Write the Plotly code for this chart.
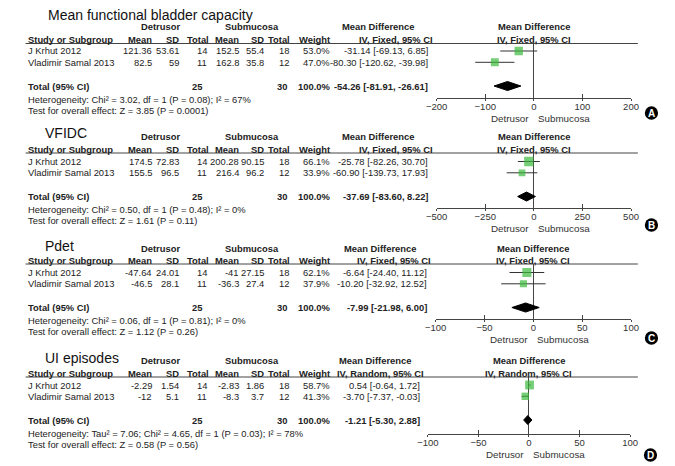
import plotly.graph_objects as go

W, H = 675, 466

# ---------------- data ----------------
studies = ["J Krhut 2012", "Vladimir Samal 2013"]
titles = ["Mean functional bladder capacity", "VFIDC", "Pdet", "UI episodes"]
methods = ["IV, Fixed, 95% CI", "IV, Fixed, 95% CI", "IV, Fixed, 95% CI", "IV, Random, 95% CI"]
letters = ["A", "B", "C", "D"]

a_det_mean = [121.36, 82.5]
a_det_sd = [53.61, 59]
a_det_n = [14, 11]
a_sub_mean = [152.5, 162.8]
a_sub_sd = [55.4, 35.8]
a_sub_n = [18, 12]
a_weight = [53.0, 47.0]
a_md = [-31.14, -80.30]
a_lo = [-69.13, -120.62]
a_hi = [6.85, -39.98]
a_total = [-54.26, -81.91, -26.61]
a_het = "Heterogeneity: Chi\u00b2 = 3.02, df = 1 (P = 0.08); I\u00b2 = 67%"
a_test = "Test for overall effect: Z = 3.85 (P = 0.0001)"
a_ticks = [-200, -100, 0, 100, 200]

b_det_mean = [174.5, 155.5]
b_det_sd = [72.83, 96.5]
b_det_n = [14, 11]
b_sub_mean = [200.28, 216.4]
b_sub_sd = [90.15, 96.2]
b_sub_n = [18, 12]
b_weight = [66.1, 33.9]
b_md = [-25.78, -60.90]
b_lo = [-82.26, -139.73]
b_hi = [30.70, 17.93]
b_total = [-37.69, -83.60, 8.22]
b_het = "Heterogeneity: Chi\u00b2 = 0.50, df = 1 (P = 0.48); I\u00b2 = 0%"
b_test = "Test for overall effect: Z = 1.61 (P = 0.11)"
b_ticks = [-500, -250, 0, 250, 500]

c_det_mean = [-47.64, -46.5]
c_det_sd = [24.01, 28.1]
c_det_n = [14, 11]
c_sub_mean = [-41, -36.3]
c_sub_sd = [27.15, 27.4]
c_sub_n = [18, 12]
c_weight = [62.1, 37.9]
c_md = [-6.64, -10.20]
c_lo = [-24.40, -32.92]
c_hi = [11.12, 12.52]
c_total = [-7.99, -21.98, 6.00]
c_het = "Heterogeneity: Chi\u00b2 = 0.06, df = 1 (P = 0.81); I\u00b2 = 0%"
c_test = "Test for overall effect: Z = 1.12 (P = 0.26)"
c_ticks = [-100, -50, 0, 50, 100]

d_det_mean = [-2.29, -12]
d_det_sd = [1.54, 5.1]
d_det_n = [14, 11]
d_sub_mean = [-2.83, -8.3]
d_sub_sd = [1.86, 3.7]
d_sub_n = [18, 12]
d_weight = [58.7, 41.3]
d_md = [0.54, -3.70]
d_lo = [-0.64, -7.37]
d_hi = [1.72, -0.03]
d_total = [-1.21, -5.30, 2.88]
d_het = "Heterogeneity: Tau\u00b2 = 7.06; Chi\u00b2 = 4.65, df = 1 (P = 0.03); I\u00b2 = 78%"
d_test = "Test for overall effect: Z = 0.58 (P = 0.56)"
d_ticks = [-100, -50, 0, 50, 100]

panels = [
    dict(det_mean=a_det_mean, det_sd=a_det_sd, det_n=a_det_n, sub_mean=a_sub_mean, sub_sd=a_sub_sd,
         sub_n=a_sub_n, weight=a_weight, md=a_md, lo=a_lo, hi=a_hi, total=a_total, het=a_het,
         test=a_test, ticks=a_ticks),
    dict(det_mean=b_det_mean, det_sd=b_det_sd, det_n=b_det_n, sub_mean=b_sub_mean, sub_sd=b_sub_sd,
         sub_n=b_sub_n, weight=b_weight, md=b_md, lo=b_lo, hi=b_hi, total=b_total, het=b_het,
         test=b_test, ticks=b_ticks),
    dict(det_mean=c_det_mean, det_sd=c_det_sd, det_n=c_det_n, sub_mean=c_sub_mean, sub_sd=c_sub_sd,
         sub_n=c_sub_n, weight=c_weight, md=c_md, lo=c_lo, hi=c_hi, total=c_total, het=c_het,
         test=c_test, ticks=c_ticks),
    dict(det_mean=d_det_mean, det_sd=d_det_sd, det_n=d_det_n, sub_mean=d_sub_mean, sub_sd=d_sub_sd,
         sub_n=d_sub_n, weight=d_weight, md=d_md, lo=d_lo, hi=d_hi, total=d_total, het=d_het,
         test=d_test, ticks=d_ticks),
]

# ---------------- layout geometry (pixels) ----------------
geom = [
    dict(title_y=15, grp_y=26, hdr_y=39, line_y=43.5, r1=51, axis_y=98, x0=438, x1=638,
         mdcol=430, mdh1=378, mdh2=396, let_y=113, let_x=659),
    dict(title_y=133, grp_y=136, hdr_y=149, line_y=153, r1=161.5, axis_y=208, x0=438, x1=638,
         mdcol=430, mdh1=378, mdh2=396, let_y=225, let_x=659),
    dict(title_y=246, grp_y=248, hdr_y=260, line_y=264, r1=272.5, axis_y=319, x0=437, x1=638,
         mdcol=429, mdh1=380, mdh2=394, let_y=338, let_x=659),
    dict(title_y=358, grp_y=360, hdr_y=373, line_y=377, r1=385, axis_y=434, x0=429, x1=637,
         mdcol=422, mdh1=375, mdh2=380, let_y=455, let_x=658),
]
U = 11.3            # px per row
ROWS = [0, 1]
TOT = 3.1
cols = dict(mean1=146, sd1=174, n1=205, mean2=236, sd2=261, n2=288, w=329, n1t=198, n2t=285)

FONT = "Liberation Sans, Arial, sans-serif"
TXT = "#222222"
FS = 9.4
GREEN = "#3cb93c"

fig = go.Figure()
ann = []
shapes = []


def px(x):
    return x / W


def py(y):
    return 1 - y / H


def txt(x, y, s, anchor="right", bold=False, size=FS, color=TXT, xref="paper", xshift=0):
    ann.append(dict(x=x if xref != "paper" else px(x), y=py(y), xref=xref, yref="paper",
                    text=f"<b>{s}</b>" if bold else s, showarrow=False, xanchor=anchor,
                    yanchor="middle", xshift=xshift, borderpad=0,
                    font=dict(family=FONT, size=size, color=color)))


def fmt(v):
    return f"{v:g}"


def ci(m, l, h):
    return f"{m:.2f} [{l:.2f}, {h:.2f}]"


for i, (p, g) in enumerate(zip(panels, geom)):
    k = "" if i == 0 else str(i + 1)
    xa, ya = "x" + k, "y" + k
    rng = [p["ticks"][0], p["ticks"][-1]]
    ytop = (g["line_y"] - g["r1"]) / U
    ybot = (g["axis_y"] - g["r1"]) / U

    fig.update_layout({
        "xaxis" + k: dict(domain=[px(g["x0"]), px(g["x1"])], range=rng, anchor=ya,
                          tickvals=p["ticks"], ticks="inside", ticklen=4, tickcolor="#444",
                          showline=True, linecolor="#444", linewidth=1, showgrid=False,
                          zeroline=True, zerolinecolor="#444", zerolinewidth=1,
                          tickfont=dict(family=FONT, size=9.5, color="#333"), fixedrange=True),
        "yaxis" + k: dict(domain=[py(g["axis_y"]), py(g["line_y"])], range=[ybot, ytop],
                          anchor=xa, visible=False, fixedrange=True),
        "xaxis" + str(i + 5): dict(overlaying=xa, anchor=ya, range=rng, tickvals=p["ticks"],
                                   ticks="outside", ticklen=2, tickcolor="#444",
                                   showticklabels=False, showline=False, showgrid=False,
                                   zeroline=False, side="bottom"),
    })

    # study squares with CIs
    fig.add_trace(go.Scatter(
        x=p["md"], y=ROWS, xaxis=xa, yaxis=ya, mode="markers",
        marker=dict(symbol="square", color=GREEN, size=[1.15 * w ** 0.5 for w in p["weight"]],
                    line=dict(width=0)),
        error_x=dict(type="data", symmetric=False,
                     array=[h - m for h, m in zip(p["hi"], p["md"])],
                     arrayminus=[m - l for m, l in zip(p["md"], p["lo"])],
                     color="#333", thickness=1, width=0),
        hoverinfo="skip", showlegend=False))
    # pooled diamond
    m, l, h = p["total"]
    dh = 0.4
    fig.add_trace(go.Scatter(
        x=[l, m, h, m, l], y=[TOT, TOT - dh, TOT, TOT + dh, TOT], xaxis=xa, yaxis=ya,
        mode="lines", fill="toself", fillcolor="black", line=dict(color="black", width=1),
        hoverinfo="skip", showlegend=False))
    # dummy on overlay axis so it renders
    fig.add_trace(go.Scatter(x=[0], y=[0], xaxis="x" + str(i + 5), yaxis=ya, mode="markers",
                             marker=dict(opacity=0), hoverinfo="skip", showlegend=False))

    # --- texts ---
    if i == 0:
        txt(37, g["title_y"], titles[i], anchor="left", size=14, color="#111")
    else:
        txt(34, g["title_y"], titles[i], anchor="left", size=14, color="#111")
    txt(154, g["grp_y"], "Detrusor", anchor="center", bold=True)
    txt(248, g["grp_y"], "Submucosa", anchor="center", bold=True)
    txt(g["mdh1"], g["grp_y"], "Mean Difference", anchor="center", bold=True)
    txt(g["mdh2"], g["hdr_y"], methods[i], anchor="center", bold=True)
    txt(0, g["grp_y"], "Mean Difference", anchor="center", bold=True, xref=xa)
    txt(0, g["hdr_y"], methods[i], anchor="center", bold=True, xref=xa)

    txt(16, g["hdr_y"], "Study or Subgroup", anchor="left", bold=True)
    for c, s in [("mean1", "Mean"), ("sd1", "SD"), ("n1", "Total"), ("mean2", "Mean"),
                 ("sd2", "SD"), ("n2", "Total"), ("w", "Weight")]:
        txt(cols[c], g["hdr_y"], s, bold=True)
    shapes.append(dict(type="line", xref="paper", yref="paper", x0=px(15), x1=px(645),
                       y0=py(g["line_y"]), y1=py(g["line_y"]), line=dict(color="#444", width=1)))

    for r in ROWS:
        yy = g["r1"] + r * U
        txt(16, yy, studies[r], anchor="left")
        txt(cols["mean1"], yy, fmt(p["det_mean"][r]))
        txt(cols["sd1"], yy, fmt(p["det_sd"][r]))
        txt(cols["n1"] - 2, yy, fmt(p["det_n"][r]))
        txt(cols["mean2"], yy, fmt(p["sub_mean"][r]))
        txt(cols["sd2"], yy, fmt(p["sub_sd"][r]))
        txt(cols["n2"] - 1, yy, fmt(p["sub_n"][r]))
        txt(cols["w"], yy, f"{p['weight'][r]:.1f}%")
        txt(g["mdcol"], yy, ci(p["md"][r], p["lo"][r], p["hi"][r]))

    ty = g["r1"] + TOT * U
    txt(16, ty, "Total (95% CI)", anchor="left", bold=True)
    txt(cols["n1t"], ty, fmt(sum(p["det_n"])), bold=True)
    txt(cols["n2t"], ty, fmt(sum(p["sub_n"])), bold=True)
    txt(cols["w"], ty, f"{sum(p['weight']):.1f}%", bold=True)
    txt(g["mdcol"], ty, ci(*p["total"]), bold=True)
    txt(16, ty + 13, p["het"], anchor="left")
    txt(16, ty + 24, p["test"], anchor="left")

    # favours labels
    txt(0, g["axis_y"] + 20, "Detrusor", anchor="right", xref=xa, xshift=-4, size=9.8, color="#333")
    txt(0, g["axis_y"] + 20, "Submucosa", anchor="left", xref=xa, xshift=3, size=9.8, color="#333")

    # circled letter
    r = 6.8
    shapes.append(dict(type="circle", xref="paper", yref="paper",
                       x0=px(g["let_x"] - r), x1=px(g["let_x"] + r),
                       y0=py(g["let_y"] + r), y1=py(g["let_y"] - r),
                       fillcolor="black", line=dict(color="black", width=0)))
    txt(g["let_x"] + 0.3, g["let_y"], letters[i], anchor="center", bold=True, size=10, color="white")

fig.update_layout(width=W, height=H, margin=dict(l=0, r=0, t=0, b=0),
                  paper_bgcolor="white", plot_bgcolor="rgba(0,0,0,0)",
                  annotations=ann, shapes=shapes, showlegend=False)
fig.write_html("out.html", config={"displayModeBar": False, "staticPlot": True},
               post_script="document.body.style.margin='0';document.body.style.padding='0';")
